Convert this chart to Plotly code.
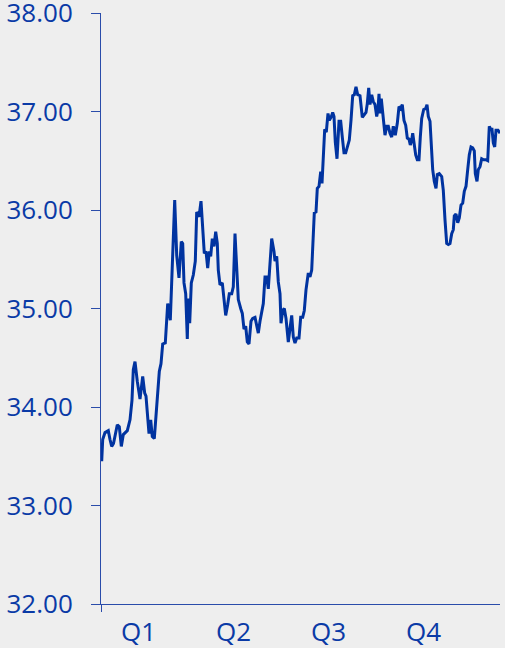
import plotly.graph_objects as go

# day index (trading calendar position) and closing price
day = [9.7, 10.7, 13, 16.3, 18, 19.7, 21.5, 23, 25.3, 27.3, 29.3, 31.3, 33, 35.3, 38, 40, 41.3, 43,
       45.3, 48, 50.7, 52.7, 54, 55.7, 57, 58.7, 60.3, 62.3, 64.7, 67.3, 69, 70.7, 73.3, 75.7, 78.3,
       80.7, 82.7, 84.7, 87, 89.3, 90.7, 92, 93.7, 95.3, 96.3, 97.7, 99.3, 101.3, 103.3, 104.7, 107,
       109, 110.3, 112.3, 114, 115.7, 117.3, 118.7, 120.3, 122, 123.7, 125.3, 126.3, 128, 130.3,
       131.7, 133.7, 135.7, 137.3, 139.7, 141.3, 143, 144.7, 146.3, 148.7, 150.3, 152, 153.7, 155.3,
       157, 159, 160.7, 163, 164.7, 166.3, 168, 169.7, 171.3, 173, 174.7, 176.3, 178.3, 179.7, 182,
       183, 184.7, 186.3, 188, 189, 190.7, 192.3, 194, 196.3, 198.3, 199.7, 201.3, 203, 204.7, 207,
       208.7, 210.7, 212.3, 214, 216.3, 218, 219.7, 221.3, 222.3, 224, 225.3, 227, 228.7, 230, 231.3,
       232.7, 234.3, 236, 237.3, 239, 240.7, 242, 243.3, 245, 247, 248.7, 250.3, 252, 253.7, 255.3,
       257.3, 259, 260.7, 262.3, 264, 265.7, 268, 270.3, 272, 274, 275.3, 276.7, 278, 279.7, 281.3,
       283, 284.7, 286, 287, 288, 289.3, 290.7, 292, 293, 294.7, 296.3, 298, 299.7, 301.3, 303.3,
       305.3, 307, 308.7, 310.3, 312, 313.7, 315.3, 317, 318.3, 319.7, 320.7, 322, 323.7, 325.3,
       327, 328.3, 329.7, 331.7, 333.7, 335, 336.3, 338, 339.7, 340.7, 342.3, 344, 345.3, 347.3,
       349.7, 351.3, 353, 354.7, 356.3, 358, 359.7, 361.3, 362.3, 364, 365.7, 367.3, 369, 370.7,
       372.3, 374, 375.7, 377.3, 379, 380.7, 382.3, 383.3, 385, 386.3, 388, 389.7, 391.7, 393.7,
       395.7, 397.3, 398.7, 400, 401.3, 402.7, 404, 406, 408]
price = [33.45, 33.67, 33.74, 33.76, 33.67, 33.60, 33.63, 33.72, 33.82, 33.80, 33.60, 33.72, 33.74,
         33.76, 33.87, 34.07, 34.38, 34.46, 34.26, 34.08, 34.31, 34.14, 34.11, 33.90, 33.73, 33.87,
         33.70, 33.68, 34.04, 34.36, 34.44, 34.64, 34.65, 35.05, 34.88, 35.53, 36.10, 35.54, 35.31,
         35.68, 35.66, 35.26, 35.15, 34.69, 35.10, 34.85, 35.26, 35.34, 35.48, 35.98, 35.93, 36.09,
         35.90, 35.56, 35.58, 35.41, 35.58, 35.53, 35.71, 35.63, 35.78, 35.66, 35.39, 35.24, 35.26,
         35.09, 34.93, 35.04, 35.15, 35.15, 35.22, 35.76, 35.32, 35.09, 35.00, 34.95, 34.79, 34.82,
         34.66, 34.64, 34.87, 34.90, 34.91, 34.82, 34.75, 34.87, 34.97, 35.05, 35.32, 35.32, 35.20,
         35.53, 35.71, 35.58, 35.48, 35.53, 35.27, 35.15, 34.85, 34.98, 35.00, 34.90, 34.66, 34.82,
         34.93, 34.71, 34.65, 34.70, 34.70, 34.91, 34.91, 34.98, 35.19, 35.36, 35.32, 35.39, 35.70,
         35.97, 35.98, 36.22, 36.24, 36.39, 36.27, 36.56, 36.82, 36.79, 36.98, 36.91, 36.94, 36.99,
         36.95, 36.69, 36.52, 36.90, 36.90, 36.74, 36.58, 36.58, 36.64, 36.71, 36.91, 37.16, 37.17,
         37.25, 37.17, 37.16, 36.94, 36.96, 36.99, 37.08, 37.24, 37.07, 37.17, 37.10, 37.07, 36.95,
         37.02, 37.18, 36.98, 37.13, 36.96, 36.86, 36.76, 36.85, 36.85, 36.78, 36.74, 36.85, 36.76,
         36.88, 37.05, 37.03, 37.07, 36.91, 36.86, 36.73, 36.72, 36.66, 36.71, 36.78, 36.66, 36.56,
         36.51, 36.51, 36.74, 36.93, 37.02, 37.03, 37.07, 36.95, 36.90, 36.64, 36.41, 36.29, 36.22,
         36.36, 36.37, 36.34, 36.20, 35.90, 35.66, 35.65, 35.66, 35.76, 35.80, 35.94, 35.96, 35.87,
         35.92, 36.05, 36.07, 36.19, 36.24, 36.41, 36.56, 36.64, 36.63, 36.60, 36.37, 36.29, 36.41,
         36.44, 36.52, 36.51, 36.51, 36.50, 36.85, 36.82, 36.82, 36.68, 36.64, 36.81, 36.81, 36.78]

quarter_pos = [46.5, 141.5, 236.5, 331.5]
quarter_labels = ["Q1", "Q2", "Q3", "Q4"]
y_ticks = [32, 33, 34, 35, 36, 37, 38]

LINE = "#0033a0"
AXIS = "#2a4caa"
TEXT = "#0a3aa6"
BG = "#eeeeee"

fig = go.Figure(go.Scatter(x=day, y=price, mode="lines",
                           line=dict(color=LINE, width=3), hoverinfo="skip"))

fig.update_layout(
    width=505, height=648,
    margin=dict(l=101, r=5, t=13, b=44),
    paper_bgcolor=BG, plot_bgcolor=BG,
    showlegend=False,
    font=dict(family="Open Sans", size=26, color=TEXT),
)
fig.update_xaxes(range=[9, 408], showgrid=False, zeroline=False, automargin=False,
                 showline=True, linecolor=AXIS, linewidth=1,
                 tickvals=quarter_pos, ticktext=quarter_labels, ticks="",
                 ticklabelstandoff=5, ticklabeloverflow="allow",
                 minor=dict(ticks="outside", ticklen=7, tickcolor=AXIS, tick0=9, dtick=10000),
                 tickfont=dict(family="Open Sans", size=26, color=TEXT))
fig.update_yaxes(range=[32, 38], showgrid=False, zeroline=False, automargin=False,
                 showline=True, linecolor=AXIS, linewidth=1,
                 tickvals=y_ticks, tickformat=".2f", ticks="outside", ticklen=9,
                 tickcolor=AXIS, ticklabelstandoff=13, ticklabeloverflow="allow",
                 tickfont=dict(family="Open Sans", size=26, color=TEXT))

fig.write_html("out.html")
